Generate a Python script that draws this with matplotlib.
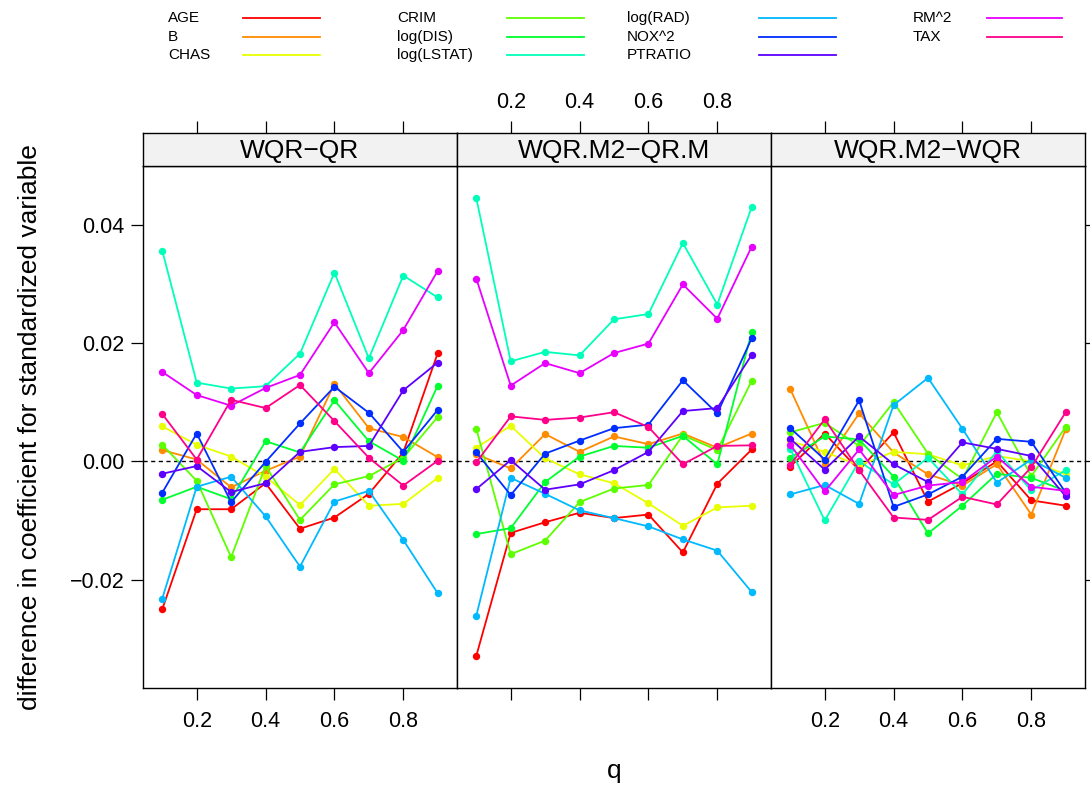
"""
plot.py
Differences in standardized coefficients across quantiles, three panels (lattice-style).
"""
import numpy as np
import matplotlib
matplotlib.use('Agg')
import matplotlib.pyplot as plt
from matplotlib.colors import hsv_to_rgb
from matplotlib.lines import Line2D

plt.rcParams['font.family'] = ['Liberation Sans', 'DejaVu Sans']

# === DATA ===
q = [0.1, 0.2, 0.3, 0.4, 0.5, 0.6, 0.7, 0.8, 0.9]
variables = ['AGE', 'B', 'CHAS', 'CRIM', 'log(DIS)', 'log(LSTAT)',
             'log(RAD)', 'NOX^2', 'PTRATIO', 'RM^2', 'TAX']
panel_titles = ['WQR\u2212QR', 'WQR.M2\u2212QR.M', 'WQR.M2\u2212WQR']

wqr_qr = {
    'AGE':        [-0.0250, -0.0081, -0.0081, -0.0037, -0.0114, -0.0095, -0.0055, 0.0015, 0.0183],
    'B':          [0.0019, 0.0003, -0.0044, -0.0016, 0.0008, 0.0131, 0.0056, 0.0041, 0.0007],
    'CHAS':       [0.0059, 0.0028, 0.0008, -0.0026, -0.0074, -0.0013, -0.0075, -0.0072, -0.0028],
    'CRIM':       [0.0028, -0.0033, -0.0162, -0.0008, -0.0099, -0.0039, -0.0025, 0.0006, 0.0075],
    'log(DIS)':   [-0.0065, -0.0043, -0.0064, 0.0034, 0.0015, 0.0103, 0.0034, 0.0001, 0.0128],
    'log(LSTAT)': [0.0356, 0.0133, 0.0123, 0.0127, 0.0182, 0.0319, 0.0174, 0.0314, 0.0277],
    'log(RAD)':   [-0.0232, -0.0043, -0.0026, -0.0093, -0.0178, -0.0068, -0.0050, -0.0133, -0.0223],
    'NOX^2':      [-0.0053, 0.0047, -0.0069, -0.0001, 0.0064, 0.0126, 0.0082, 0.0016, 0.0087],
    'PTRATIO':    [-0.0021, -0.0008, -0.0052, -0.0037, 0.0016, 0.0024, 0.0026, 0.0120, 0.0167],
    'RM^2':       [0.0151, 0.0112, 0.0094, 0.0124, 0.0146, 0.0235, 0.0149, 0.0222, 0.0322],
    'TAX':        [0.0080, 0.0003, 0.0104, 0.0090, 0.0129, 0.0068, 0.0006, -0.0041, 0.0001],
}

wqrm2_qrm = {
    'AGE':        [-0.0329, -0.0121, -0.0103, -0.0087, -0.0096, -0.0090, -0.0154, -0.0038, 0.0020],
    'B':          [0.0012, -0.0012, 0.0046, 0.0016, 0.0042, 0.0029, 0.0047, 0.0023, 0.0047],
    'CHAS':       [0.0023, 0.0060, 0.0005, -0.0022, -0.0037, -0.0071, -0.0109, -0.0078, -0.0075],
    'CRIM':       [0.0055, -0.0157, -0.0134, -0.0069, -0.0046, -0.0040, 0.0044, 0.0019, 0.0136],
    'log(DIS)':   [-0.0123, -0.0113, -0.0035, 0.0008, 0.0026, 0.0023, 0.0043, -0.0005, 0.0219],
    'log(LSTAT)': [0.0445, 0.0169, 0.0185, 0.0179, 0.0240, 0.0249, 0.0369, 0.0265, 0.0430],
    'log(RAD)':   [-0.0261, -0.0028, -0.0055, -0.0083, -0.0096, -0.0110, -0.0132, -0.0151, -0.0221],
    'NOX^2':      [0.0015, -0.0057, 0.0013, 0.0035, 0.0056, 0.0062, 0.0137, 0.0081, 0.0208],
    'PTRATIO':    [-0.0047, 0.0002, -0.0048, -0.0039, -0.0015, 0.0016, 0.0085, 0.0090, 0.0180],
    'RM^2':       [0.0309, 0.0128, 0.0166, 0.0149, 0.0183, 0.0199, 0.0299, 0.0241, 0.0363],
    'TAX':        [-0.0002, 0.0076, 0.0070, 0.0074, 0.0083, 0.0058, -0.0005, 0.0026, 0.0027],
}

wqrm2_wqr = {
    'AGE':        [-0.0009, 0.0047, -0.0015, 0.0049, -0.0068, -0.0037, 0.0000, -0.0066, -0.0075],
    'B':          [0.0122, -0.0005, 0.0081, 0.0015, -0.0022, -0.0041, -0.0005, -0.0090, 0.0054],
    'CHAS':       [0.0034, 0.0016, -0.0007, 0.0016, 0.0012, -0.0007, 0.0009, 0.0000, -0.0022],
    'CRIM':       [0.0049, 0.0065, 0.0026, 0.0100, 0.0013, -0.0030, 0.0083, -0.0025, 0.0058],
    'log(DIS)':   [0.0006, 0.0042, 0.0037, -0.0026, -0.0122, -0.0075, -0.0021, -0.0028, -0.0050],
    'log(LSTAT)': [0.0021, -0.0100, 0.0000, -0.0039, 0.0006, -0.0056, 0.0017, -0.0049, -0.0015],
    'log(RAD)':   [-0.0056, -0.0040, -0.0072, 0.0095, 0.0141, 0.0055, -0.0036, 0.0003, -0.0028],
    'NOX^2':      [0.0056, 0.0003, 0.0103, -0.0077, -0.0056, -0.0026, 0.0038, 0.0033, -0.0053],
    'PTRATIO':    [0.0038, -0.0014, 0.0042, -0.0005, -0.0035, 0.0032, 0.0021, 0.0009, -0.0059],
    'RM^2':       [0.0028, -0.0051, 0.0020, -0.0057, -0.0041, -0.0035, 0.0008, -0.0043, -0.0050],
    'TAX':        [-0.0006, 0.0071, -0.0015, -0.0095, -0.0099, -0.0060, -0.0073, -0.0010, 0.0083],
}

panels = [wqr_qr, wqrm2_qrm, wqrm2_wqr]

# rainbow palette like R's rainbow(11)
colors = [hsv_to_rgb([i / len(variables), 1, 1]) for i in range(len(variables))]

# === LAYOUT (pixels) ===
W, H = 1090, 787
fig = plt.figure(figsize=(W / 100, H / 100), dpi=100)

def fx(px):
    return px / W

def fy(py):
    return 1 - py / H

panel_lefts = [143, 457, 771]
panel_w = 314
p_top, p_bot, s_top = 166, 688, 133

# lattice-style 7% padding
xpad = 0.07 * (max(q) - min(q))
xlim = (min(q) - xpad, max(q) + xpad)
all_vals = np.concatenate([np.array(list(p.values())).ravel() for p in panels])
ypad = 0.07 * (all_vals.max() - all_vals.min())
ylim = (all_vals.min() - ypad, all_vals.max() + ypad)

xticks = [0.2, 0.4, 0.6, 0.8]
yticks = [-0.02, 0.0, 0.02, 0.04]
tick_kw = dict(direction='out', length=8.5, width=0.9, labelsize=15.5, color='black')

for i, (data, title) in enumerate(zip(panels, panel_titles)):
    left = panel_lefts[i]
    ax = fig.add_axes([fx(left), fy(p_bot), panel_w / W, (p_bot - p_top) / H])
    sax = fig.add_axes([fx(left), fy(p_top), panel_w / W, (p_top - s_top) / H])

    ax.axhline(0, color='black', lw=1.0, ls=(0, (3, 2.5)), zorder=1)
    for k, var in enumerate(variables):
        ax.plot(q, data[var], color=colors[k], lw=1.3, marker='o', ms=4.3,
                zorder=2 + k * 0.01)

    ax.set_xlim(*xlim)
    ax.set_ylim(*ylim)
    for sp in ax.spines.values():
        sp.set_linewidth(1.0)

    # x ticks: bottom labels on panels 1 and 3, top labels on panel 2
    ax.set_xticks(xticks)
    ax.set_xticklabels(['0.2', '0.4', '0.6', '0.8'])
    ax.tick_params(axis='x', top=False, bottom=True, labelbottom=(i != 1), pad=8, **tick_kw)

    # y ticks: left labels on panel 1, right ticks on panel 3
    ax.set_yticks(yticks)
    ax.set_yticklabels(['\u22120.02', '0.00', '0.02', '0.04'])
    ax.tick_params(axis='y', left=(i == 0), right=(i == 2), labelleft=(i == 0),
                   labelright=False, pad=5, **tick_kw)

    # strip
    sax.set_facecolor('#F2F2F2')
    sax.set_xlim(*xlim)
    sax.set_yticks([])
    sax.set_xticks(xticks)
    sax.set_xticklabels(['0.2', '0.4', '0.6', '0.8'])
    sax.tick_params(axis='x', top=True, bottom=False, labelbottom=False,
                    labeltop=(i == 1), pad=6, **tick_kw)
    for sp in sax.spines.values():
        sp.set_linewidth(1.0)
    sax.text(0.5, 0.45, title, transform=sax.transAxes, ha='center', va='center',
             fontsize=19)

# axis labels
fig.text(fx(30), fy(427), 'difference in coefficient for standardized variable',
         rotation=90, ha='center', va='center', fontsize=19)
fig.text(fx(614), fy(771), 'q', ha='center', va='center', fontsize=19)

# legend (column-major, 4 columns x 3 rows)
text_x = [168, 397, 627, 913]
line_x = [(243, 320), (507, 584), (759, 836), (987, 1062)]
row_y = [18, 37, 55]
for k, var in enumerate(variables):
    c, r = k // 3, k % 3
    fig.text(fx(text_x[c]), fy(row_y[r]), var, ha='left', va='center', fontsize=11)
    x0, x1 = line_x[c]
    fig.add_artist(Line2D([fx(x0), fx(x1)], [fy(row_y[r]), fy(row_y[r])],
                          color=colors[k], lw=1.3, transform=fig.transFigure))

fig.savefig('out.png', dpi=100)
